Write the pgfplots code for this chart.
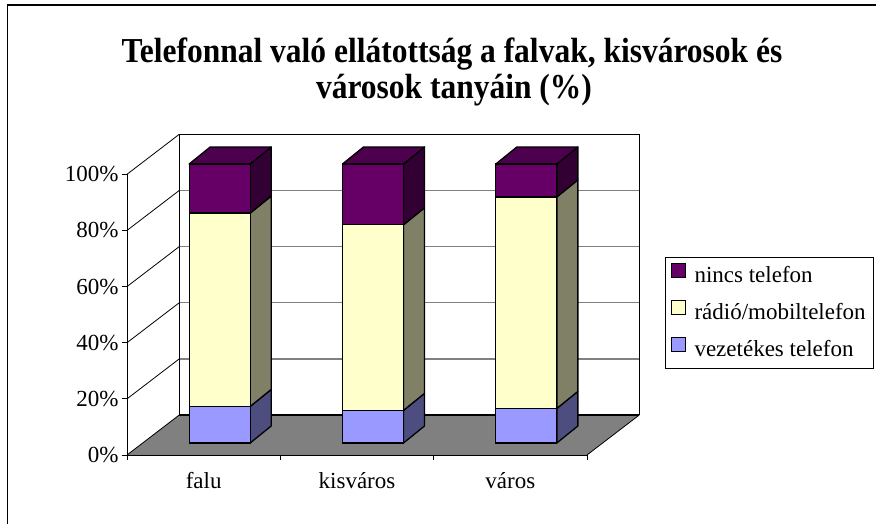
\documentclass[border=0pt]{standalone}
\usepackage{fontspec}
\setmainfont{Liberation Serif}
\newfontfamily\titlefont[FakeStretch=0.9]{Liberation Serif}
\usepackage{pgfplots}
\pgfplotsset{compat=1.18}
\usepackage{pgfplotstable}

\definecolor{purpF}{HTML}{660066}
\definecolor{purpT}{HTML}{4D004D}
\definecolor{purpS}{HTML}{330033}
\definecolor{yelF}{HTML}{FFFFCC}
\definecolor{yelS}{HTML}{808066}
\definecolor{bluF}{HTML}{9999FF}
\definecolor{bluS}{HTML}{4D4D80}
\definecolor{floorG}{HTML}{808080}

\pgfplotstableread{
x vez radio nincs
0.5 13.1 69.3 17.6
1.5 11.7 66.5 21.8
2.5 12.4 75.8 11.8
}\data

\begin{document}
\begin{tikzpicture}
\useasboundingbox (0,0) rectangle (876pt,524pt);
\fill[white] (0,0) rectangle (876pt,524pt);
\draw[line width=1.5pt] (7.5pt,0) -- (7.5pt,519pt) -- (876pt,519pt);

% frame axis with floor, walls and legend
\begin{axis}[
  at={(127pt,69pt)}, anchor=south west, scale only axis,
  width=460pt, height=280.7pt,
  xmin=0, xmax=3, ymin=0, ymax=100,
  clip=false, axis on top,
  axis lines*=left,
  axis line style={black, line width=0.8pt},
  xtick={0,1,2,3}, xticklabels={},
  extra x ticks={0.5,1.5,2.5},
  extra x tick labels={falu,kisváros,város},
  extra x tick style={major tick length=0pt, xticklabel style={yshift=-14pt}},
  ytick={0,20,40,60,80,100},
  yticklabel={\pgfmathprintnumber{\tick}\%},
  tick align=outside, major tick length=5pt,
  tick style={black, line width=0.8pt},
  tick label style={font=\fontsize{23}{27}\selectfont},
  /pgf/number format/assume math mode=true,
  legend cell align=left,
  legend style={at={(axis description cs:1.1696,0.7054)}, anchor=north west,
    draw=black, line width=1pt, font=\fontsize{23}{27}\selectfont,
    inner xsep=5pt, inner ysep=6pt, row sep=12pt, column sep=6pt,
    nodes={inner xsep=3pt, inner ysep=2pt, text height=17pt, text depth=4pt}},
]
\addplot[fill=floorG, draw=none, forget plot] coordinates {(0,0) (3,0) (3.341,14.25) (0.341,14.25)} -- cycle;
% back wall gridlines
\draw[floorG, line width=1.5pt] (axis cs:0.341,34.25) -- (axis cs:3.341,34.25);
\draw[floorG, line width=1.5pt] (axis cs:0.341,54.25) -- (axis cs:3.341,54.25);
\draw[floorG, line width=1.5pt] (axis cs:0.341,74.25) -- (axis cs:3.341,74.25);
\draw[floorG, line width=1.5pt] (axis cs:0.341,94.25) -- (axis cs:3.341,94.25);
\draw[black, line width=0.8pt] (axis cs:0.341,114.25) -- (axis cs:3.341,114.25) -- (axis cs:3.341,14.25);
\draw[black, line width=0.8pt] (axis cs:0.341,14.25) -- (axis cs:0.341,114.25);
% left wall diagonals
\draw[black, line width=0.8pt] (axis cs:0,20) -- (axis cs:0.341,34.25);
\draw[black, line width=0.8pt] (axis cs:0,40) -- (axis cs:0.341,54.25);
\draw[black, line width=0.8pt] (axis cs:0,60) -- (axis cs:0.341,74.25);
\draw[black, line width=0.8pt] (axis cs:0,80) -- (axis cs:0.341,94.25);
\draw[black, line width=0.8pt] (axis cs:0,100) -- (axis cs:0.341,114.25);
\draw[black, line width=0.8pt] (axis cs:0,0) -- (axis cs:0.341,14.25);
% floor edges
\draw[black, line width=2pt] (axis cs:0.341,14.25) -- (axis cs:3.341,14.25);
\draw[black, line width=0.8pt] (axis cs:3,0) -- (axis cs:3.341,14.25);
% legend
\addlegendimage{legend image code/.code={\draw[fill=purpF, draw=black, line width=1pt] (0pt,-2pt) rectangle (14pt,12pt);}}
\addlegendentry{nincs telefon}
\addlegendimage{legend image code/.code={\draw[fill=yelF, draw=black, line width=1pt] (0pt,-2pt) rectangle (14pt,12pt);}}
\addlegendentry{rádió/mobiltelefon}
\addlegendimage{legend image code/.code={\draw[fill=bluF, draw=black, line width=1pt] (0pt,-2pt) rectangle (14pt,12pt);}}
\addlegendentry{vezetékes telefon}
\end{axis}

% side and top faces of the bars
\begin{axis}[
  at={(143pt,81pt)}, anchor=south west, scale only axis,
  width=460pt, height=279pt,
  xmin=0, xmax=3, ymin=0, ymax=100,
  hide axis, clip=false,
]
\addplot[fill=bluS, draw=black, line width=1.3pt, line join=round] coordinates {(0.699,0) (0.836,6.09) (0.836,19.19) (0.699,13.1)} -- cycle;
\addplot[fill=yelS, draw=black, line width=1.3pt, line join=round] coordinates {(0.699,13.1) (0.836,19.19) (0.836,88.49) (0.699,82.4)} -- cycle;
\addplot[fill=purpS, draw=black, line width=1.3pt, line join=round] coordinates {(0.699,82.4) (0.836,88.49) (0.836,106.09) (0.699,100)} -- cycle;
\addplot[fill=purpT, draw=black, line width=1.3pt, line join=round] coordinates {(0.301,100) (0.699,100) (0.836,106.09) (0.438,106.09)} -- cycle;

\addplot[fill=bluS, draw=black, line width=1.3pt, line join=round] coordinates {(1.699,0) (1.836,6.09) (1.836,17.79) (1.699,11.7)} -- cycle;
\addplot[fill=yelS, draw=black, line width=1.3pt, line join=round] coordinates {(1.699,11.7) (1.836,17.79) (1.836,84.29) (1.699,78.2)} -- cycle;
\addplot[fill=purpS, draw=black, line width=1.3pt, line join=round] coordinates {(1.699,78.2) (1.836,84.29) (1.836,106.09) (1.699,100)} -- cycle;
\addplot[fill=purpT, draw=black, line width=1.3pt, line join=round] coordinates {(1.301,100) (1.699,100) (1.836,106.09) (1.438,106.09)} -- cycle;

\addplot[fill=bluS, draw=black, line width=1.3pt, line join=round] coordinates {(2.699,0) (2.836,6.09) (2.836,18.49) (2.699,12.4)} -- cycle;
\addplot[fill=yelS, draw=black, line width=1.3pt, line join=round] coordinates {(2.699,12.4) (2.836,18.49) (2.836,94.29) (2.699,88.2)} -- cycle;
\addplot[fill=purpS, draw=black, line width=1.3pt, line join=round] coordinates {(2.699,88.2) (2.836,94.29) (2.836,106.09) (2.699,100)} -- cycle;
\addplot[fill=purpT, draw=black, line width=1.3pt, line join=round] coordinates {(2.301,100) (2.699,100) (2.836,106.09) (2.438,106.09)} -- cycle;
\end{axis}

% front faces of the stacked bars
\begin{axis}[
  at={(143pt,81pt)}, anchor=south west, scale only axis,
  width=460pt, height=279pt,
  xmin=0, xmax=3, ymin=0, ymax=100,
  hide axis, clip=false,
  ybar stacked, bar width=61pt,
]
\addplot[fill=bluF, draw=black, line width=1.3pt] table[x=x, y=vez] {\data};
\addplot[fill=yelF, draw=black, line width=1.3pt] table[x=x, y=radio] {\data};
\addplot[fill=purpF, draw=black, line width=1.3pt] table[x=x, y=nincs] {\data};
\end{axis}

\node[anchor=base, font=\titlefont\bfseries\fontsize{35}{40}\selectfont] at (452pt,461.4pt) {Telefonnal való ellátottság a falvak, kisvárosok és};
\node[anchor=base, font=\titlefont\bfseries\fontsize{35}{40}\selectfont] at (454pt,425.5pt) {városok tanyáin (\%)};
\end{tikzpicture}
\end{document}
